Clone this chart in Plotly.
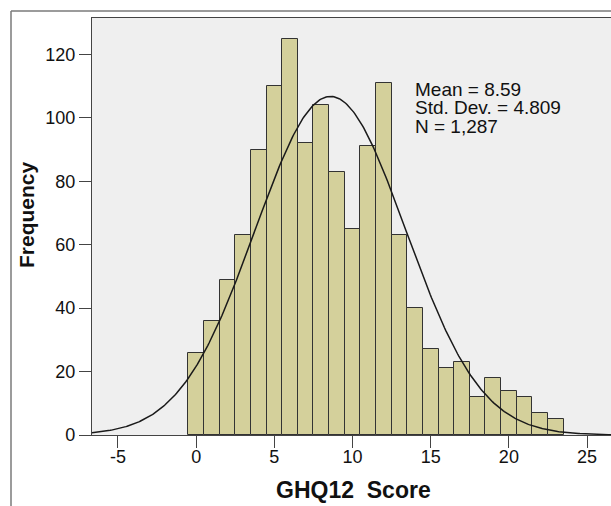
import numpy as np
import plotly.graph_objects as go

# ---- data ----
scores = list(range(0, 24))
frequency = [26, 36, 49, 63, 90, 110, 125, 92, 104, 83, 65, 91, 111, 63,
             40, 27, 21, 23, 12, 18, 14, 12, 7, 5]
MEAN = 8.59
STD_DEV = 4.809
N_TOTAL = 1287
x_tick_vals = [-5, 0, 5, 10, 15, 20, 25]
x_tick_text = ["-5", "0", "5", "10", "15", "20", "25"]
y_tick_vals = [0, 20, 40, 60, 80, 100, 120]
stats_lines = ["Mean = 8.59", "Std. Dev. = 4.809", "N = 1,287"]

X_RANGE = [-6.66, 26.53]
Y_RANGE = [0, 131.5]

# fitted normal curve (bin width 1)
xc = np.linspace(X_RANGE[0], X_RANGE[1], 400)
yc = N_TOTAL / (STD_DEV * np.sqrt(2 * np.pi)) * np.exp(-0.5 * ((xc - MEAN) / STD_DEV) ** 2)

W, H = 611, 506
L, R, T, B = 92, 0, 18, 71
pw, ph = W - L - R, H - T - B

def px_x(p):
    return (p - L) / pw

def px_y(p):
    return (H - B - p) / ph

FONT = "Liberation Sans, Arial, sans-serif"

fig = go.Figure()
fig.add_trace(go.Bar(
    x=scores, y=frequency, width=1,
    marker=dict(color="#d4d09b", line=dict(color="#333333", width=1)),
    hoverinfo="x+y",
))
fig.add_trace(go.Scatter(
    x=xc, y=yc, mode="lines",
    line=dict(color="#1a1a1a", width=1.5),
    hoverinfo="skip",
))

annotations = []
for i, t in enumerate(stats_lines):
    annotations.append(dict(
        text=t, xref="paper", yref="paper",
        x=px_x(413), y=px_y(89 + 18.5 * i),
        xanchor="left", yanchor="middle", showarrow=False,
        font=dict(family=FONT, size=19, color="#111111"),
    ))
annotations.append(dict(
    text="<b>GHQ12\u00a0\u00a0Score</b>", xref="paper", yref="paper",
    x=px_x(353), y=px_y(490), xanchor="center", yanchor="middle",
    showarrow=False, font=dict(family=FONT, size=23, color="#111111"),
))
annotations.append(dict(
    text="<b>Frequency</b>", xref="paper", yref="paper",
    x=px_x(27), y=px_y(215), xanchor="center", yanchor="middle",
    textangle=-90, showarrow=False,
    font=dict(family=FONT, size=21, color="#111111"),
))

shapes = [
    dict(type="line", xref="paper", yref="paper",
         x0=px_x(11), x1=px_x(611), y0=px_y(11), y1=px_y(11),
         line=dict(color="#7a7a7a", width=1.5)),
    dict(type="line", xref="paper", yref="paper",
         x0=px_x(11), x1=px_x(11), y0=px_y(11), y1=px_y(506),
         line=dict(color="#7a7a7a", width=1.5)),
]

fig.update_layout(
    width=W, height=H,
    margin=dict(l=L, r=R, t=T, b=B, pad=0),
    paper_bgcolor="white", plot_bgcolor="#efefef",
    showlegend=False, bargap=0,
    font=dict(family=FONT, size=18, color="#111111"),
    annotations=annotations, shapes=shapes,
    xaxis=dict(range=X_RANGE, tickvals=x_tick_vals, ticktext=x_tick_text,
               ticks="outside", ticklen=12, tickwidth=1.2, tickcolor="#444444",
               ticklabelstandoff=-7,
               showline=True, linecolor="#444444", linewidth=1.2, mirror=True,
               showgrid=False, zeroline=False,
               tickfont=dict(family=FONT, size=18, color="#111111")),
    yaxis=dict(range=Y_RANGE, tickvals=y_tick_vals, ticks="outside",
               ticklen=12, tickwidth=1.2, tickcolor="#444444",
               showline=True, linecolor="#444444", linewidth=1.2,
               showgrid=False, zeroline=False,
               tickfont=dict(family=FONT, size=18, color="#111111")),
)

fig.write_html("out.html", config={"displayModeBar": False},
               post_script="document.body.style.margin='0';document.body.style.overflow='hidden';")
